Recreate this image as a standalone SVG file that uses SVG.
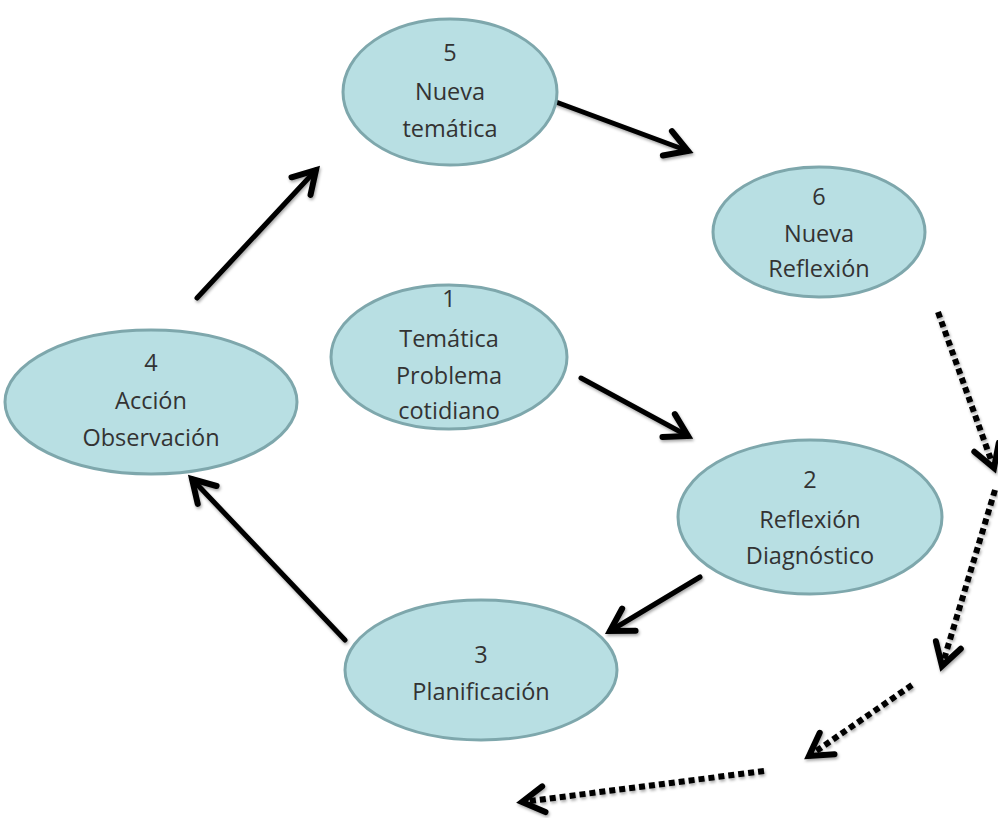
<svg xmlns="http://www.w3.org/2000/svg" width="998" height="818" viewBox="0 0 998 818">
  <defs>
    <style>
      .node ellipse { fill: #b8dfe3; stroke: #7ea7ac; stroke-width: 3; }
      .node text { font-family: "Open Sans", "Liberation Sans", sans-serif; font-size: 23.5px; fill: #333; text-anchor: middle; }
      .link { stroke: #000; stroke-width: 5; fill: none; stroke-linecap: round; }
      .dotted { stroke: #000; stroke-width: 6; fill: none; stroke-dasharray: 6 4; }
    </style>
    <marker id="head" markerUnits="userSpaceOnUse" markerWidth="40" markerHeight="40" viewBox="-30 -20 40 40" refX="0" refY="0" orient="auto">
      <path d="M -22 -13 L 0 0 L -22 13" fill="none" stroke="#000" stroke-width="6" stroke-linecap="round" stroke-linejoin="miter"/>
    </marker>
    <filter id="shadow" x="-20%" y="-20%" width="140%" height="140%">
      <feDropShadow dx="1" dy="2" stdDeviation="1.5" flood-color="#000" flood-opacity="0.35"/>
    </filter>
  </defs>

  <g id="connectors" filter="url(#shadow)">
    <line class="link" x1="556" y1="102" x2="688" y2="151" marker-end="url(#head)"/>
    <line class="link" x1="197" y1="298" x2="316" y2="170" marker-end="url(#head)"/>
    <line class="link" x1="581" y1="378" x2="688" y2="436" marker-end="url(#head)"/>
    <line class="link" x1="700" y1="577" x2="610" y2="631" marker-end="url(#head)"/>
    <line class="link" x1="345" y1="640" x2="192" y2="479" marker-end="url(#head)"/>
    <line class="dotted" x1="938" y1="312" x2="994" y2="468" marker-end="url(#head)"/>
    <line class="dotted" x1="995" y1="490" x2="942" y2="666" marker-end="url(#head)"/>
    <line class="dotted" x1="912" y1="685" x2="809" y2="756" marker-end="url(#head)"/>
    <line class="dotted" x1="764" y1="771" x2="522" y2="802" marker-end="url(#head)"/>
  </g>

  <g id="node5" class="node">
    <ellipse cx="450" cy="92" rx="107" ry="73"/>
    <text x="450" y="61">5</text>
    <text x="450" y="100">Nueva</text>
    <text x="450" y="137">temática</text>
  </g>

  <g id="node6" class="node">
    <ellipse cx="819" cy="232" rx="106" ry="65"/>
    <text x="819" y="205">6</text>
    <text x="819" y="242">Nueva</text>
    <text x="819" y="277">Reflexión</text>
  </g>

  <g id="node1" class="node">
    <ellipse cx="449" cy="357" rx="118" ry="72"/>
    <text x="449" y="307">1</text>
    <text x="449" y="347">Temática</text>
    <text x="449" y="384">Problema</text>
    <text x="449" y="419">cotidiano</text>
  </g>

  <g id="node4" class="node">
    <ellipse cx="151" cy="402" rx="146" ry="72"/>
    <text x="151" y="371">4</text>
    <text x="151" y="409">Acción</text>
    <text x="151" y="446">Observación</text>
  </g>

  <g id="node2" class="node">
    <ellipse cx="810" cy="517" rx="132" ry="77"/>
    <text x="810" y="488">2</text>
    <text x="810" y="528">Reflexión</text>
    <text x="810" y="564">Diagnóstico</text>
  </g>

  <g id="node3" class="node">
    <ellipse cx="481" cy="670" rx="136" ry="70"/>
    <text x="481" y="663">3</text>
    <text x="481" y="700">Planificación</text>
  </g>
</svg>
